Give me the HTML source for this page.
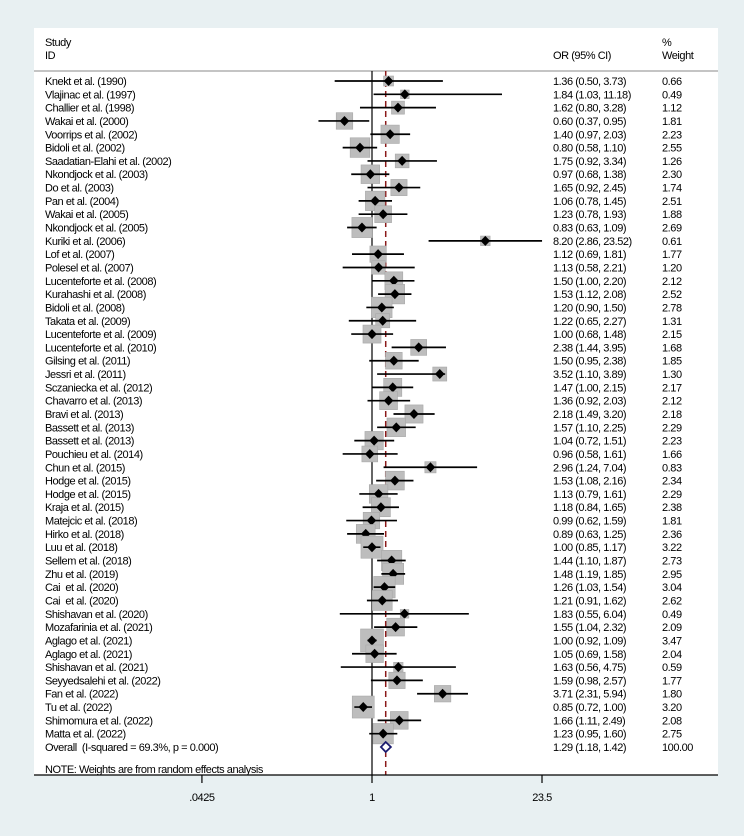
<!DOCTYPE html>
<html><head><meta charset="utf-8"><style>
html,body{margin:0;padding:0;background:#e8f0f2;}
svg{display:block;font-family:"Liberation Sans",Arial,sans-serif;}
text{font-size:11px;fill:#000;letter-spacing:-0.45px;white-space:pre;}
</style></head><body>
<svg id="chart" width="744" height="836" viewBox="0 0 744 836" xml:space="preserve">
<rect x="0" y="0" width="744" height="836" fill="#e8f0f2"/>
<rect x="34" y="28" width="684" height="747" fill="#ffffff"/>
<text x="45" y="46">Study</text>
<text x="45" y="59">ID</text>
<text x="553" y="59">OR (95% CI)</text>
<text x="662" y="46">%</text>
<text x="662" y="59">Weight</text>
<line x1="34" y1="71" x2="718" y2="71" stroke="#888" stroke-width="1"/>
<g id="marks"></g>
<text x="45" y="773">NOTE: Weights are from random effects analysis</text>
<line x1="34" y1="775" x2="718" y2="775" stroke="#000" stroke-width="1.2"/>
<g id="axis"></g>
</svg>
<script>
const studies=["Knekt et al. (1990)","Vlajinac et al. (1997)","Challier et al. (1998)","Wakai et al. (2000)","Voorrips et al. (2002)","Bidoli et al. (2002)","Saadatian-Elahi et al. (2002)","Nkondjock et al. (2003)","Do et al. (2003)","Pan et al. (2004)","Wakai et al. (2005)","Nkondjock et al. (2005)","Kuriki et al. (2006)","Lof et al. (2007)","Polesel et al. (2007)","Lucenteforte et al. (2008)","Kurahashi et al. (2008)","Bidoli et al. (2008)","Takata et al. (2009)","Lucenteforte et al. (2009)","Lucenteforte et al. (2010)","Gilsing et al. (2011)","Jessri et al. (2011)","Sczaniecka et al. (2012)","Chavarro et al. (2013)","Bravi et al. (2013)","Bassett et al. (2013)","Bassett et al. (2013)","Pouchieu et al. (2014)","Chun et al. (2015)","Hodge et al. (2015)","Hodge et al. (2015)","Kraja et al. (2015)","Matejcic et al. (2018)","Hirko et al. (2018)","Luu et al. (2018)","Sellem et al. (2018)","Zhu et al. (2019)","Cai  et al. (2020)","Cai  et al. (2020)","Shishavan et al. (2020)","Mozafarinia et al. (2021)","Aglago et al. (2021)","Aglago et al. (2021)","Shishavan et al. (2021)","Seyyedsalehi et al. (2022)","Fan et al. (2022)","Tu et al. (2022)","Shimomura et al. (2022)","Matta et al. (2022)"];
const orVals=[1.36,1.84,1.62,0.60,1.40,0.80,1.75,0.97,1.65,1.06,1.23,0.83,8.20,1.12,1.13,1.50,1.53,1.20,1.22,1.00,2.38,1.50,3.52,1.47,1.36,2.18,1.57,1.04,0.96,2.96,1.53,1.13,1.18,0.99,0.89,1.00,1.44,1.48,1.26,1.21,1.83,1.55,1.00,1.05,1.63,1.59,3.71,0.85,1.66,1.23];
const loVals=[0.50,1.03,0.80,0.37,0.97,0.58,0.92,0.68,0.92,0.78,0.78,0.63,2.86,0.69,0.58,1.00,1.12,0.90,0.65,0.68,1.44,0.95,1.10,1.00,0.92,1.49,1.10,0.72,0.58,1.24,1.08,0.79,0.84,0.62,0.63,0.85,1.10,1.19,1.03,0.91,0.55,1.04,0.92,0.69,0.56,0.98,2.31,0.72,1.11,0.95];
const hiVals=[3.73,11.18,3.28,0.95,2.03,1.10,3.34,1.38,2.45,1.45,1.93,1.09,23.52,1.81,2.21,2.20,2.08,1.50,2.27,1.48,3.95,2.38,3.89,2.15,2.03,3.20,2.25,1.51,1.61,7.04,2.16,1.61,1.65,1.59,1.25,1.17,1.87,1.85,1.54,1.62,6.04,2.32,1.09,1.58,4.75,2.57,5.94,1.00,2.49,1.60];
const weights=[0.66,0.49,1.12,1.81,2.23,2.55,1.26,2.30,1.74,2.51,1.88,2.69,0.61,1.77,1.20,2.12,2.52,2.78,1.31,2.15,1.68,1.85,1.30,2.17,2.12,2.18,2.29,2.23,1.66,0.83,2.34,2.29,2.38,1.81,2.36,3.22,2.73,2.95,3.04,2.62,0.49,2.09,3.47,2.04,0.59,1.77,1.80,3.20,2.08,2.75];
const overallLabel="Overall  (I-squared = 69.3%, p = 0.000)";
const overall=[1.29,1.18,1.42];
const overallWeight="100.00";
const tickVals=[0.0425,1,23.5];
const tickLabels=[".0425","1","23.5"];

const NS="http://www.w3.org/2000/svg";
const x0=372, pxPerLn=53.85;
function xs(v){return x0+Math.log(v)*pxPerLn;}
const rowY0=81, rowH=13.32;
function ys(i){return rowY0+i*rowH;}
function mk(tag,attrs,parent){const e=document.createElementNS(NS,tag);for(const k in attrs)e.setAttribute(k,attrs[k]);parent.appendChild(e);return e;}
function f2(v){return v.toFixed(2);}
const g=document.getElementById('marks');
const ax=document.getElementById('axis');

const ref=mk('line',{x1:xs(1),y1:71,x2:xs(1),y2:775,stroke:'#000','stroke-width':1.2},g);


const ov=mk('line',{x1:xs(overall[0]),y1:71,x2:xs(overall[0]),y2:775,stroke:'#8b1a1a','stroke-width':1.5,'stroke-dasharray':'6,4'},g);



studies.forEach((s,i)=>{
  const y=ys(i);
  const side=12.3*Math.sqrt(weights[i]);
  const box=mk('rect',{x:xs(orVals[i])-side/2,y:y-side/2,width:side,height:side,fill:'#bdbdbd',stroke:'#a8a8a8','stroke-width':0.6},g);
  
  
  const ci=mk('line',{x1:xs(loVals[i]),y1:y,x2:xs(hiVals[i]),y2:y,stroke:'#000','stroke-width':1.7},g);
  
  
  const cx=xs(orVals[i]);
  const d=mk('polygon',{points:`${cx-4.8},${y} ${cx},${y-5} ${cx+4.8},${y} ${cx},${y+5}`,fill:'#000'},g);
  
  
  const t=mk('text',{x:45,y:y+4},g);t.textContent=s;
  
  
  const t2=mk('text',{x:553,y:y+4},g);t2.textContent=`${f2(orVals[i])} (${f2(loVals[i])}, ${f2(hiVals[i])})`;
  
  
  const t3=mk('text',{x:662,y:y+4},g);t3.textContent=f2(weights[i]);
  
  
});
const oy=ys(studies.length);
const ol=xs(overall[1]),oh=xs(overall[2]),oc=xs(overall[0]);
const od=mk('polygon',{points:`${ol},${oy} ${oc},${oy-5} ${oh},${oy} ${oc},${oy+5}`,fill:'#fff',stroke:'#1a1a6e','stroke-width':1.8},g);


const otl=mk('text',{x:45,y:oy+4},g);otl.textContent=overallLabel;


const otv=mk('text',{x:553,y:oy+4},g);otv.textContent=`${f2(overall[0])} (${f2(overall[1])}, ${f2(overall[2])})`;


const otw=mk('text',{x:662,y:oy+4},g);otw.textContent=overallWeight;


tickVals.forEach((v,i)=>{
  const tk=mk('line',{x1:xs(v),y1:775,x2:xs(v),y2:783,stroke:'#000','stroke-width':1.2},ax);
  
  
  const tl=mk('text',{x:xs(v),y:801,'text-anchor':'middle'},ax);tl.textContent=tickLabels[i];
  
  
});
</script>
</body></html>
